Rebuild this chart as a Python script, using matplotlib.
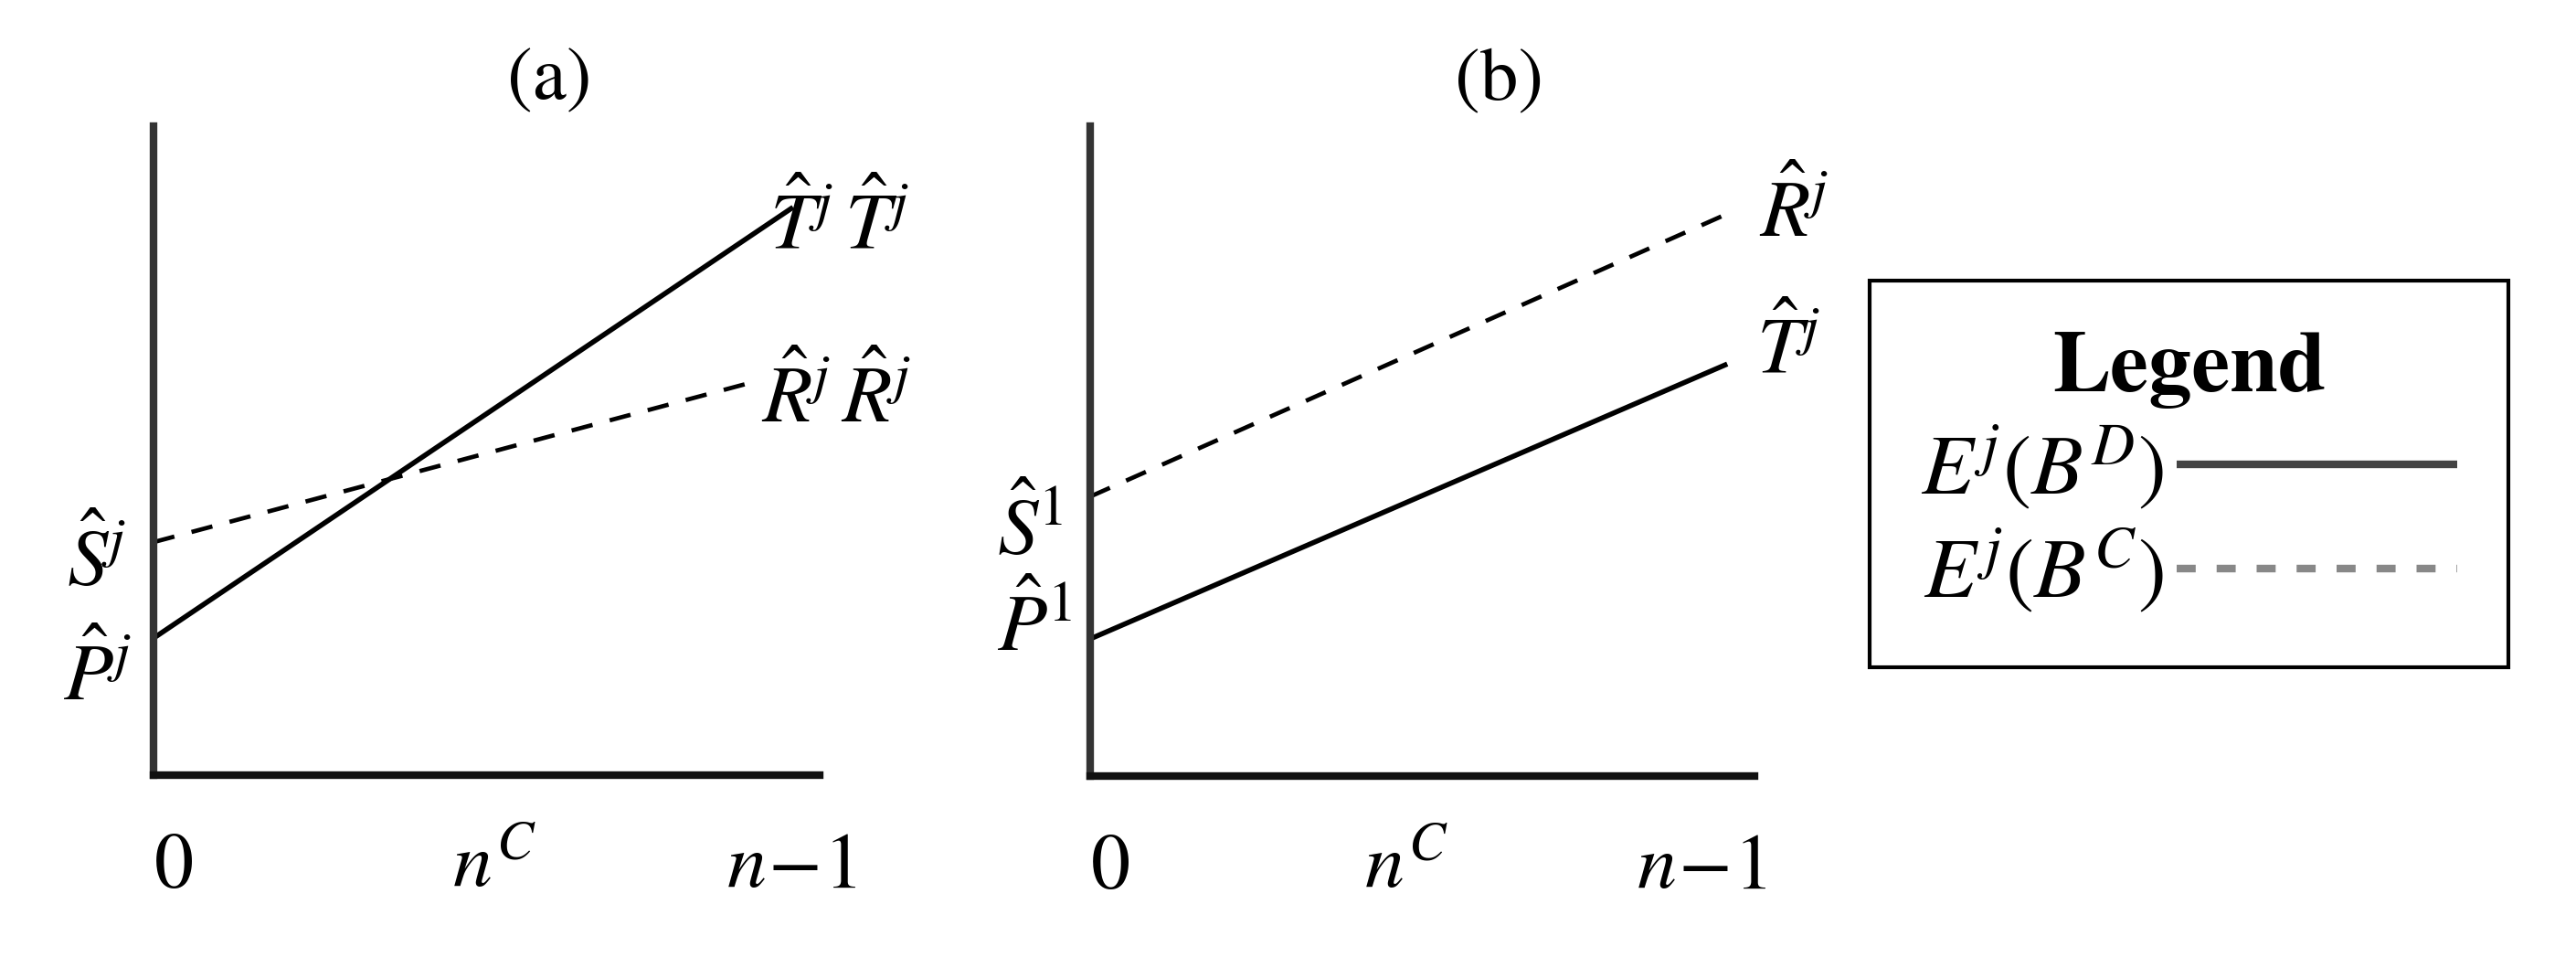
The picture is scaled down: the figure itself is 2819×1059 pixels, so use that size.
import matplotlib
matplotlib.use("Agg")
import matplotlib.pyplot as plt
from matplotlib.lines import Line2D

plt.rcParams['mathtext.fontset'] = 'stix'
plt.rcParams['font.family'] = ['STIXGeneral', 'DejaVu Serif']
plt.rcParams['lines.scale_dashes'] = False

# ---- data (axis units: 0..10 on both axes) ----
a_x = [0.0, 9.6]
a_direct = [2.11, 8.75]      # E^j(B^D), solid
a_x_c = [0.0, 9.05]
a_coop = [3.59, 6.07]        # E^j(B^C), dashed

b_x = [0.0, 9.59]
b_direct = [2.11, 6.34]
b_x_c = [0.0, 9.72]
b_coop = [4.30, 8.71]

xtick_labels = ['$0$', '$n^{C}$', '$n\\!-\\!1$']
panel_titles = ['(a)', '(b)']
legend_labels = [r'$E^{j}\left(B^{D}\right)$', r'$E^{j}\left(B^{C}\right)$']

W, H = 2819, 1059
fig = plt.figure(figsize=(W / 100, H / 100), dpi=100)

def make_axes(left, right, bottom, top):
    ax = fig.add_axes([left / W, (H - bottom) / H, (right - left) / W, (bottom - top) / H])
    ax.set_xlim(0, 10)
    ax.set_ylim(0, 10)
    for s in ['top', 'right']:
        ax.spines[s].set_visible(False)
    ax.spines['left'].set_linewidth(6.0)
    ax.spines['left'].set_color('#333333')
    ax.spines['bottom'].set_linewidth(6.0)
    ax.spines['bottom'].set_color('#111111')
    ax.set_xticks([])
    ax.set_yticks([])
    ax.patch.set_visible(False)
    return ax

LW = 4.0
DASH = (0, (17, 14))
FS_LAB = 64
FS_TICK = 62
TICK_Y = -1.73

axa = make_axes(168, 897, 848, 138)
axa.plot(a_x, a_direct, color='black', lw=LW, solid_capstyle='butt', clip_on=False)
axa.plot(a_x_c, a_coop, color='black', lw=LW * 0.85, linestyle=DASH, clip_on=False)

axa.text(9.25, 8.1, r'$\hat{T}^{j}\,\hat{T}^{j}$', fontsize=FS_LAB, va='baseline', ha='left')
axa.text(9.12, 5.44, r'$\hat{R}^{j}\,\hat{R}^{j}$', fontsize=FS_LAB, va='baseline', ha='left')
axa.text(-1.30, 2.92, r'$\hat{S}^{j}$', fontsize=FS_LAB, va='baseline', ha='left')
axa.text(-1.36, 1.15, r'$\hat{P}^{j}$', fontsize=FS_LAB, va='baseline', ha='left')
for xpos, lab in zip([0.0, 4.49, 8.6], xtick_labels):
    axa.text(xpos, TICK_Y, lab, fontsize=FS_TICK, va='baseline', ha='left')
axa.text(5.94, 10.68, panel_titles[0], fontsize=60, va='center', ha='center')

axb = make_axes(1193, 1920, 849, 138)
axb.plot(b_x, b_direct, color='black', lw=LW, solid_capstyle='butt', clip_on=False)
axb.plot(b_x_c, b_coop, color='black', lw=LW * 0.85, linestyle=DASH, clip_on=False)

axb.text(10.07, 8.30, r'$\hat{R}^{j}$', fontsize=FS_LAB, va='baseline', ha='left')
axb.text(10.03, 6.20, r'$\hat{T}^{j}$', fontsize=FS_LAB, va='baseline', ha='left')
axb.text(-1.40, 3.40, r'$\hat{S}^{1}$', fontsize=FS_LAB, va='baseline', ha='left')
axb.text(-1.40, 1.93, r'$\hat{P}^{1}$', fontsize=FS_LAB, va='baseline', ha='left')
for xpos, lab in zip([0.0, 4.13, 8.23], xtick_labels):
    axb.text(xpos, TICK_Y, lab, fontsize=FS_TICK, va='baseline', ha='left')
axb.text(6.15, 10.67, panel_titles[1], fontsize=60, va='center', ha='center')

# ---- legend ----
handles = [
    Line2D([], [], color='#444444', lw=6, solid_capstyle='butt'),
    Line2D([], [], color='#888888', lw=6, linestyle=(0, (15, 16.5))),
]
leg = fig.legend(handles, legend_labels, loc='upper left',
                 bbox_to_anchor=(2046 / W, (H - 307) / H),
                 markerfirst=False, title='Legend',
                 title_fontproperties={'family': 'STIXGeneral', 'weight': 'bold', 'size': 68},
                 prop={'family': 'STIXGeneral', 'size': 67},
                 frameon=True, fancybox=False, edgecolor='black', framealpha=1,
                 borderpad=0.6, handlelength=3.3, handletextpad=0.15,
                 labelspacing=0.17, borderaxespad=0)
leg.get_frame().set_linewidth(3.0)

fig.savefig('out.png', dpi=100, facecolor='white')
